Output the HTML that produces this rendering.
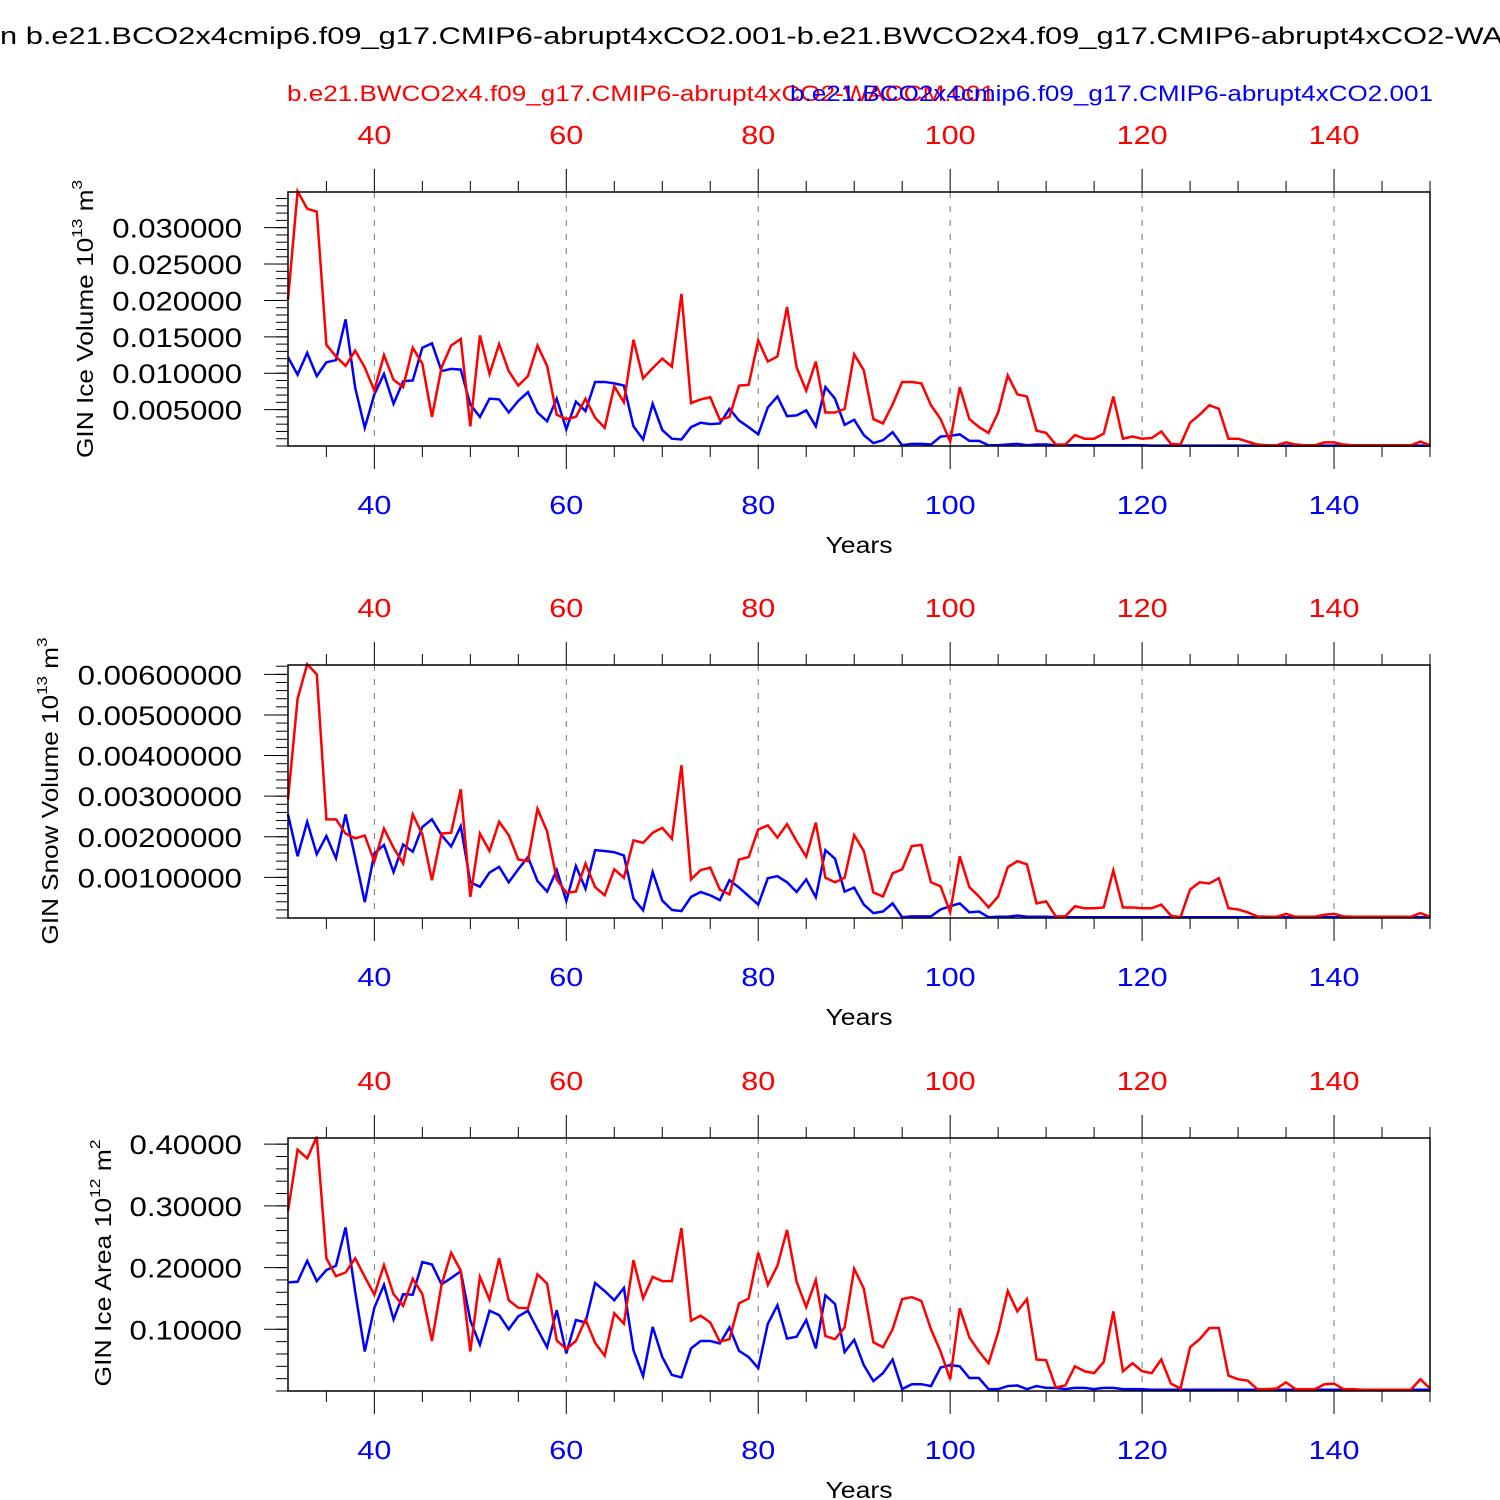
<!DOCTYPE html>
<html><head><meta charset="utf-8"><style>
html,body{margin:0;padding:0;background:#fff;}
svg{display:block;font-family:"Liberation Sans",Arial,sans-serif;}
</style></head><body>
<svg id="chart" width="1500" height="1500" viewBox="0 0 1500 1500" xmlns="http://www.w3.org/2000/svg">
<rect width="1500" height="1500" fill="#fff"/>
<text x="0" y="44" font-size="24" fill="#000" textLength="1503" lengthAdjust="spacingAndGlyphs">n b.e21.BCO2x4cmip6.f09_g17.CMIP6-abrupt4xCO2.001-b.e21.BWCO2x4.f09_g17.CMIP6-abrupt4xCO2-WA</text>
<text x="287" y="101" font-size="22" fill="#ff0000" textLength="708" lengthAdjust="spacingAndGlyphs">b.e21.BWCO2x4.f09_g17.CMIP6-abrupt4xCO2-WACCM.001</text>
<text x="790" y="101" font-size="22" fill="#0000ff" textLength="643" lengthAdjust="spacingAndGlyphs">b.e21.BCO2x4cmip6.f09_g17.CMIP6-abrupt4xCO2.001</text>
<g id="plots"></g>
</svg>
<script>
const yearStart = 31;
const yearEnd = 150;
const xTickYears = [40, 60, 80, 100, 120, 140];

// Panel 1: GIN ice volume (units of 0.001 x 10^13 m^3)
const iceVolRed = [20.1,35.0,32.6,32.2,13.9,12.3,11.0,13.1,10.8,7.6,
12.5,9.1,8.1,13.5,11.3,4.0,10.8,13.8,14.7,2.7,
15.2,9.9,14.0,10.3,8.3,9.6,13.8,11.0,4.3,3.7,
4.0,6.5,3.9,2.5,8.2,6.0,14.6,9.3,10.7,12.0,
10.9,20.9,5.9,6.4,6.7,3.6,4.0,8.3,8.4,14.5,
11.6,12.3,19.1,10.8,7.6,11.6,4.6,4.6,5.1,12.6,
10.4,3.7,3.1,5.7,8.8,8.8,8.6,5.6,3.7,0.6,
8.1,3.7,2.6,1.8,4.6,9.7,7.1,6.8,2.1,1.8,
0.2,0.2,1.5,1.0,1.0,1.7,6.8,1.0,1.3,1.0,
1.1,2.0,0.3,0.2,3.2,4.3,5.6,5.1,1.0,1.0,
0.6,0.2,0.1,0.1,0.5,0.2,0.1,0.1,0.5,0.5,
0.2,0.1,0.1,0.1,0.1,0.1,0.1,0.1,0.6,0.1];
const iceVolBlue = [12.2,9.8,12.8,9.6,11.5,11.8,17.4,8.0,2.5,7.1,
9.9,5.8,8.9,9.0,13.5,14.1,10.3,10.6,10.5,5.7,
4.0,6.5,6.4,4.6,6.2,7.4,4.6,3.4,6.5,2.3,
6.1,4.8,8.8,8.8,8.6,8.3,2.7,0.9,5.8,2.2,
1.0,0.9,2.6,3.2,3.0,3.1,5.1,3.5,2.6,1.6,
5.3,6.8,4.1,4.2,4.9,2.7,8.1,6.5,2.9,3.6,
1.5,0.4,0.8,1.9,0.1,0.3,0.3,0.2,1.3,1.4,
1.6,0.7,0.7,0.1,0.1,0.2,0.3,0.1,0.2,0.2,
0.1,0.1,0.1,0.1,0.1,0.1,0.1,0.1,0.1,0.1,
0.05,0.05,0.05,0.05,0.05,0.05,0.05,0.05,0.05,0.05,
0.05,0.05,0.05,0.05,0.05,0.05,0.05,0.05,0.05,0.05,
0.05,0.05,0.05,0.05,0.05,0.05,0.05,0.05,0.05,0.05];
const iceVolTicks = [5,10,15,20,25,30];
const iceVolTickLabels = ["0.005000","0.010000","0.015000","0.020000","0.025000","0.030000"];

// Panel 2: GIN snow volume (units of 0.001 x 10^13 m^3)
const snowVolRed = [2.92,5.40,6.25,6.00,2.43,2.43,2.08,1.96,2.03,1.39,
2.20,1.73,1.34,2.55,2.06,0.93,2.08,2.10,3.17,0.52,
2.08,1.65,2.37,2.04,1.44,1.40,2.69,2.13,0.95,0.62,
0.65,1.34,0.76,0.56,1.20,0.99,1.91,1.85,2.10,2.22,
1.95,3.76,0.95,1.18,1.24,0.70,0.58,1.44,1.50,2.18,
2.28,1.98,2.31,1.89,1.51,2.35,0.99,0.88,0.99,2.04,
1.65,0.63,0.53,1.10,1.20,1.77,1.80,0.88,0.78,0.14,
1.52,0.76,0.53,0.26,0.53,1.25,1.40,1.32,0.36,0.41,
0.04,0.04,0.29,0.24,0.24,0.26,1.17,0.26,0.26,0.24,
0.24,0.33,0.06,0.02,0.70,0.88,0.85,0.98,0.24,0.21,
0.14,0.04,0.03,0.03,0.10,0.03,0.03,0.03,0.08,0.10,
0.04,0.03,0.03,0.03,0.03,0.03,0.03,0.03,0.12,0.03];
const snowVolBlue = [2.55,1.52,2.37,1.57,2.02,1.47,2.55,1.49,0.39,1.59,
1.80,1.13,1.81,1.63,2.24,2.43,2.04,1.76,2.26,0.88,
0.77,1.12,1.26,0.88,1.20,1.50,0.91,0.65,1.18,0.42,
1.28,0.72,1.67,1.65,1.62,1.54,0.48,0.19,1.13,0.43,
0.20,0.17,0.52,0.64,0.56,0.44,0.93,0.75,0.54,0.33,
0.98,1.03,0.88,0.64,0.95,0.51,1.67,1.46,0.65,0.75,
0.33,0.12,0.16,0.36,0.02,0.04,0.04,0.04,0.21,0.29,
0.36,0.14,0.16,0.02,0.03,0.03,0.06,0.03,0.03,0.03,
0.02,0.02,0.02,0.02,0.02,0.02,0.02,0.02,0.02,0.02,
0.02,0.02,0.02,0.02,0.02,0.02,0.02,0.02,0.02,0.02,
0.02,0.02,0.02,0.02,0.02,0.02,0.02,0.02,0.02,0.02,
0.02,0.02,0.02,0.02,0.02,0.02,0.02,0.02,0.02,0.02];
const snowVolTicks = [1,2,3,4,5,6];
const snowVolTickLabels = ["0.00100000","0.00200000","0.00300000","0.00400000","0.00500000","0.00600000"];

// Panel 3: GIN ice area (10^12 m^2)
const iceAreaRed = [.292,.391,.377,.412,.215,.186,.192,.215,.185,.156,
.204,.157,.138,.182,.157,.081,.172,.224,.195,.064,
.185,.148,.215,.147,.135,.134,.189,.174,.082,.068,
.081,.116,.078,.057,.126,.109,.212,.150,.185,.178,
.178,.264,.114,.122,.111,.080,.084,.142,.150,.224,
.172,.203,.261,.177,.136,.180,.089,.084,.103,.198,
.166,.079,.071,.100,.149,.152,.146,.100,.064,.019,
.134,.087,.064,.045,.095,.162,.129,.149,.051,.050,
.006,.009,.040,.032,.029,.047,.129,.032,.045,.032,
.029,.051,.012,.004,.071,.084,.102,.102,.025,.019,
.017,.003,.003,.004,.014,.003,.003,.003,.011,.012,
.003,.003,.002,.002,.002,.002,.002,.002,.019,.004];
const iceAreaBlue = [.176,.177,.211,.178,.196,.203,.265,.161,.064,.135,
.172,.116,.157,.156,.209,.205,.173,.183,.194,.114,
.075,.130,.123,.100,.121,.130,.100,.071,.131,.061,
.115,.111,.175,.162,.147,.167,.066,.024,.104,.055,
.026,.022,.069,.081,.081,.077,.103,.065,.055,.037,
.109,.139,.085,.088,.115,.069,.155,.141,.063,.083,
.042,.016,.029,.051,.003,.011,.011,.008,.038,.042,
.040,.021,.021,.003,.003,.008,.009,.003,.008,.005,
.005,.003,.005,.005,.003,.005,.005,.003,.003,.003,
.002,.002,.002,.002,.002,.002,.002,.002,.002,.002,
.002,.002,.002,.002,.002,.002,.002,.002,.002,.002,
.002,.002,.002,.002,.002,.002,.002,.002,.002,.002];
const iceAreaTicks = [0.1,0.2,0.3,0.4];
const iceAreaTickLabels = ["0.10000","0.20000","0.30000","0.40000"];

const NS = "http://www.w3.org/2000/svg";
const root = document.getElementById("plots");
const X0 = 288, X1 = 1430;
function xScale(yr){ return X0 + (yr - yearStart) / (yearEnd - yearStart) * (X1 - X0); }
function mk(tag, attrs, parent){
  const e = document.createElementNS(NS, tag);
  for (const k in attrs) e.setAttribute(k, attrs[k]);
  (parent || root).appendChild(e);
  return e;
}

const panels = [
  {key:"ice-volume", top:192, bottom:446, ymax:34.9, minorStep:1, red:iceVolRed, blue:iceVolBlue, ticks:iceVolTicks, labels:iceVolTickLabels,
   title:["GIN Ice Volume 10","13"," m","3"], tx:93, ty:319, tlen:278},
  {key:"snow-volume", top:665, bottom:918, ymax:6.23, minorStep:0.2, red:snowVolRed, blue:snowVolBlue, ticks:snowVolTicks, labels:snowVolTickLabels,
   title:["GIN Snow Volume 10","13"," m","3"], tx:58, ty:791, tlen:307},
  {key:"ice-area", top:1138, bottom:1391, ymax:0.410, minorStep:0.02, red:iceAreaRed, blue:iceAreaBlue, ticks:iceAreaTicks, labels:iceAreaTickLabels,
   title:["GIN Ice Area 10","12"," m","2"], tx:111, ty:1263, tlen:247}
];

panels.forEach(function(p){
  const g = mk("g", {});
  
  
  const yS = function(v){ return p.bottom - v / p.ymax * (p.bottom - p.top); };

  xTickYears.forEach(function(yr){
    const l = mk("line", {x1:xScale(yr), x2:xScale(yr), y1:p.top, y2:p.bottom, stroke:"#777", "stroke-width":1, "stroke-dasharray":"6,8"}, g);
    
    
  });

  for (let yr = 35; yr <= 150; yr += 5) {
    const major = (yr % 20 === 0);
    const len = major ? 23 : 11;
    const x = xScale(yr);
    const t1 = mk("line", {x1:x, x2:x, y1:p.top - len, y2:p.top, stroke:"#000", "stroke-width":1}, g);
    
    
    const t2 = mk("line", {x1:x, x2:x, y1:p.bottom, y2:p.bottom + len, stroke:"#000", "stroke-width":1}, g);
    
    
  }
  xTickYears.forEach(function(yr){
    const n = String(yr).length;
    const a = mk("text", {x:xScale(yr), y:p.top - 48, "font-size":26, fill:"#ff0000", "text-anchor":"middle", textLength:n*17, lengthAdjust:"spacingAndGlyphs"}, g);
    a.textContent = yr;
    
    
    const b = mk("text", {x:xScale(yr), y:p.bottom + 68, "font-size":26, fill:"#0000ff", "text-anchor":"middle", textLength:n*17, lengthAdjust:"spacingAndGlyphs"}, g);
    b.textContent = yr;
    
    
  });
  const xt = mk("text", {x:859, y:p.bottom + 107, "font-size":23, fill:"#000", "text-anchor":"middle", textLength:67, lengthAdjust:"spacingAndGlyphs"}, g);
  xt.textContent = "Years";
  
  

  for (let v = 0; v <= p.ymax + 1e-9; v += p.minorStep) {
    const y = yS(v);
    const m = mk("line", {x1:X0 - 12, x2:X0, y1:y, y2:y, stroke:"#000", "stroke-width":1}, g);
    
    
  }
  p.ticks.forEach(function(v, i){
    const y = yS(v);
    const m = mk("line", {x1:X0 - 24, x2:X0, y1:y, y2:y, stroke:"#000", "stroke-width":1}, g);
    
    
    const lab = p.labels[i];
    const t = mk("text", {x:242, y:y + 10, "font-size":27, fill:"#000", "text-anchor":"end", textLength:(lab.length - 0.5) * 17.3, lengthAdjust:"spacingAndGlyphs"}, g);
    t.textContent = lab;
    
    
  });

  const tt = mk("text", {x:0, y:0, "font-size":23, fill:"#000", "text-anchor":"middle", textLength:p.tlen, lengthAdjust:"spacingAndGlyphs", transform:"translate(" + p.tx + "," + p.ty + ") rotate(-90)"}, g);
  
  
  const s1 = mk("tspan", {}, tt); s1.textContent = p.title[0];
  const s2 = mk("tspan", {dy:-11, "font-size":15}, tt); s2.textContent = p.title[1];
  const s3 = mk("tspan", {dy:11}, tt); s3.textContent = p.title[2];
  const s4 = mk("tspan", {dy:-11, "font-size":15}, tt); s4.textContent = p.title[3];

  [["blue", p.blue, "#0000ff"], ["red", p.red, "#ff0000"]].forEach(function(s){
    let d = "";
    s[1].forEach(function(v, i){
      d += (i ? "L" : "M") + xScale(yearStart + i).toFixed(2) + "," + yS(v).toFixed(2);
    });
    const path = mk("path", {d:d, fill:"none", stroke:s[2], "stroke-width":2.5, "stroke-linejoin":"miter"}, g);
    
    
  });

  const fr = mk("rect", {x:X0, y:p.top, width:X1 - X0, height:p.bottom - p.top, fill:"none", stroke:"#000", "stroke-width":1.5}, g);
  
  
});
</script>
</body></html>
